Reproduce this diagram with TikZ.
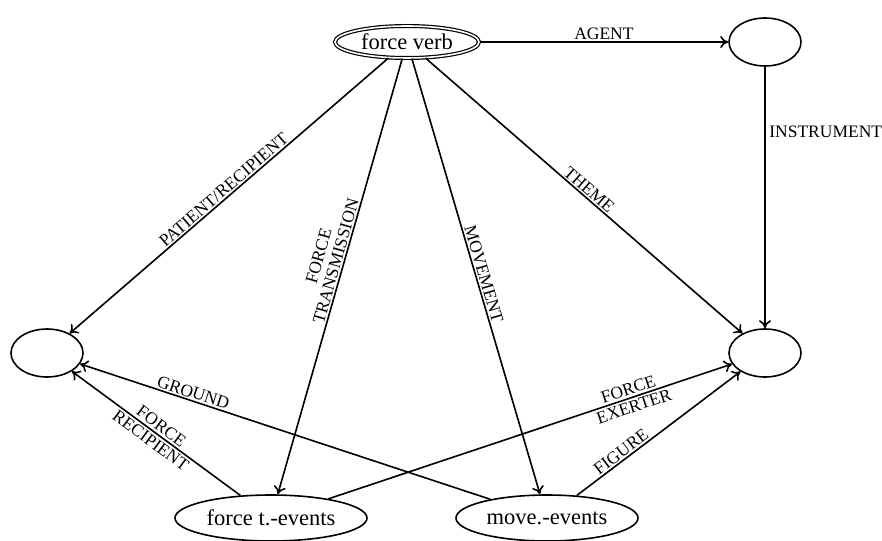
\documentclass[tikz,border=0pt]{standalone}
\usepackage{fontspec}
\setmainfont{Liberation Serif}
\usetikzlibrary{shapes.geometric,arrows.meta}
\begin{document}
\begin{tikzpicture}[x=1pt,y=1pt,
  every node/.style={inner sep=0pt},
  state/.style={ellipse, draw, line width=1.6pt, font=\fontsize{22.5}{26}\selectfont},
  role/.style={font=\fontsize{17.5}{18}\selectfont, inner sep=1.5pt},
  rel/.style={line width=1.6pt, -{To[length=8pt,width=12pt]}}
]
\useasboundingbox (0,0) rectangle (882,-540);

% frames
\node[state, double, double distance=1.6pt, line width=1.2pt,
      minimum width=144pt, minimum height=32pt] (fv) at (407,-42) {force verb};
\node[state, minimum width=72pt, minimum height=48pt] (ag) at (765,-42) {};
\node[state, minimum width=72pt, minimum height=48pt] (pr) at (47,-353) {};
\node[state, minimum width=72pt, minimum height=48pt] (th) at (765,-353) {};
\node[state, minimum width=192pt, minimum height=46pt] (ft) at (271,-518) {force t.-events};
\node[state, minimum width=182pt, minimum height=46pt] (mv) at (547,-518) {move.-events};

% relations
\draw[rel] (fv) -- node[role, above] {AGENT} (ag);
\draw[rel] (ag) -- node[role, right, pos=0.25, xshift=2pt] {INSTRUMENT} (th);
\draw[rel] (fv) -- node[role, above, sloped] {PATIENT/RECIPIENT} (pr);
\draw[rel] (fv) -- node[role, above, sloped, pos=0.47, align=center] {FORCE\\TRANSMISSION} (ft);
\draw[rel] (fv) -- node[role, above, sloped] {MOVEMENT} (mv);
\draw[rel] (fv) -- node[role, above, sloped] {THEME} (th);
\draw[rel] (ft) -- node[role, sloped, align=center] {FORCE\\RECIPIENT} (pr);
\draw[rel] (mv) -- node[role, above, sloped, pos=0.73] {GROUND} (pr);
\draw[rel] (ft) -- node[role, sloped, pos=0.75, align=center] {FORCE\\EXERTER} (th);
\draw[rel] (mv) -- node[role, above, sloped, pos=0.3] {FIGURE} (th);
\end{tikzpicture}
\end{document}
